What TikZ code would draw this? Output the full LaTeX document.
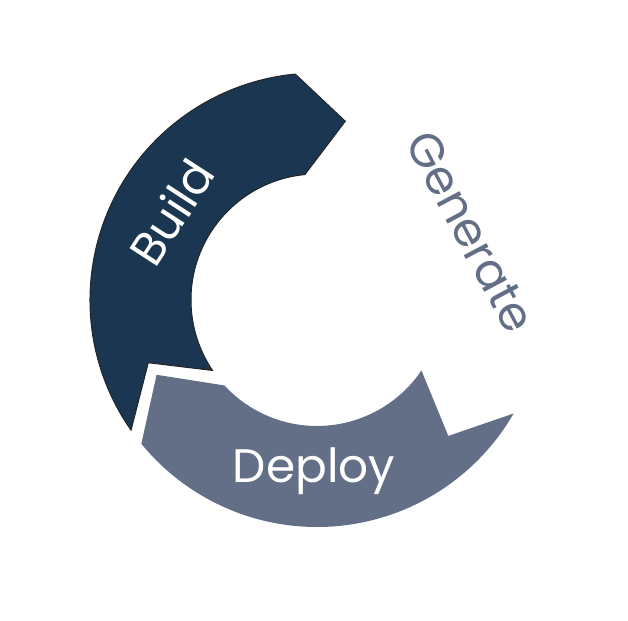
\documentclass[tikz,border=0pt]{standalone}
\usepackage{fontspec}
\setmainfont{Poppins}
\definecolor{navy}{HTML}{1A3650}
\definecolor{slate}{HTML}{636F86}
\tikzset{
  buildarc/.style={fill=navy, draw=black!85, line width=1pt, line join=miter},
  deployarc/.style={fill=slate},
  phase/.style={inner sep=0pt, font=\fontsize{47}{50}\selectfont}
}

\begin{document}
\begin{tikzpicture}[x=1pt,y=1pt]
\useasboundingbox (-317,-320) rectangle (311,300);
\def\R{227pt}
\def\r{126pt}

\draw[buildarc] (215:\R) arc[start angle=215, end angle=95.5, radius=\R] -- (81:181pt)
  -- (95.5:\r) arc[start angle=95.5, end angle=214, radius=\r] -- (200.4:180pt) -- cycle;
\fill[deployarc] (-30:\R) arc[start angle=-30, end angle=-140.7, radius=\R] -- (205:177pt)
  -- (-137.3:\r) arc[start angle=-137.3, end angle=-34, radius=\r] -- (-46:189pt) -- cycle;

\node[phase, text=white, rotate=57] (build) at (149:170) {Build};
\node[phase, text=slate, rotate=-62] (generate) at (24:168) {Generate};
\node[phase, text=white] (deploy) at (269:171) {Deploy};
\end{tikzpicture}
\end{document}
